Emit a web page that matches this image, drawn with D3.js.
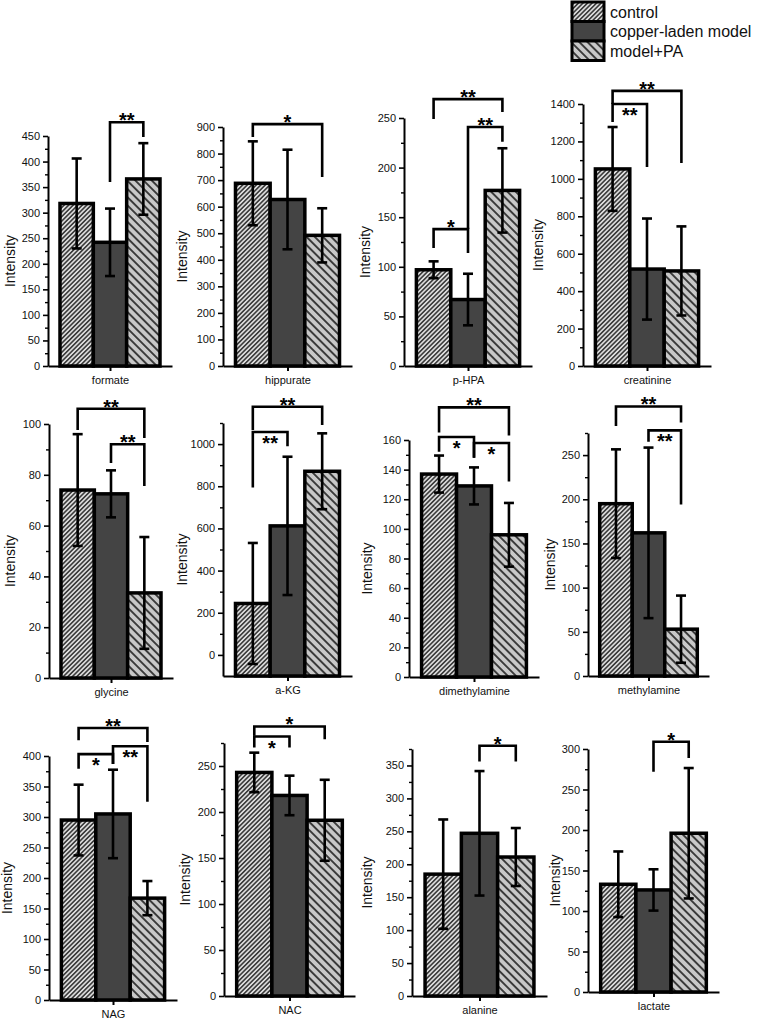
<!DOCTYPE html>
<html><head><meta charset="utf-8">
<script src="https://cdn.jsdelivr.net/npm/d3@7"></script>
<style>
body{margin:0;background:#fff}
svg{display:block}
text{font-family:Arial,"Liberation Sans",sans-serif}
</style></head>
<body><svg id="c" width="760" height="1022"></svg>
<script>
// ---------- data ----------
const metabolites = ["formate","hippurate","p-HPA","creatinine","glycine","a-KG","dimethylamine","methylamine","NAG","NAC","alanine","lactate"];
const groups = ["control","copper-laden model","model+PA"];
const controlMean = [318, 688, 97, 1053, 74, 244, 137, 195, 295, 243, 185, 133];
const controlSD   = [88, 158, 8.5, 224, 22, 287, 12.5, 61.5, 58, 21.5, 83, 40.5];
const modelMean   = [242, 627, 67, 518, 72.5, 612, 129, 162, 305, 218, 247, 126];
const modelSD     = [66, 187.5, 26, 270, 9.25, 328, 12.5, 96.5, 72.5, 21.5, 94.5, 25.5];
const paMean      = [366, 492, 177, 508, 33.5, 871, 96, 53, 167, 191, 211, 196];
const paSD        = [70, 102, 42.5, 238, 22, 180, 21.5, 38, 28, 44, 44, 80.5];
// axis ranges and tick steps
const yMin  = [0, 0, 0, 0, 0, -100, 0, 0, 0, 0, 0, 0];
const yMax  = [450, 900, 250, 1400, 100, 1100, 160, 275, 400, 275, 375, 300];
const yStep = [50, 100, 50, 200, 20, 200, 20, 50, 50, 50, 50, 50];
// significance brackets: [panel, fromGroup, toGroup, topValue, leftEnd, rightEnd, label, labelBelow]
const brackets = [
  [0,1,2,477,360,448,"**",false],
  [1,0,2,911,862,712,"*",false],
  [2,0,1,138,119,114,"*",false],[2,1,2,241,138,226,"**",false],[2,0,2,269,249,256,"**",false],
  [3,0,1,1400,1304,1063,"**",true],[3,0,2,1470,1400,1085,"**",false],
  [4,0,2,106,97.6,94.5,"**",false],[4,1,2,92,84.6,75.6,"**",false],
  [5,0,1,1057,794,990,"**",true],[5,0,2,1177,1067,1090,"**",false],
  [6,0,1,162,152,148,"*",true],[6,1,2,158,148,132,"*",true],[6,0,2,182,165,163,"**",false],
  [7,1,2,278,265,194,"**",true],[7,0,2,305,283,287,"**",false],
  [8,0,1,403,379,387,"*",true],[8,1,2,416,387,325,"**",true],[8,0,2,446,426,423,"**",false],
  [9,0,1,282,270,270,"*",true],[9,0,2,293,283,279,"*",false],
  [10,1,2,380,356,356,"*",false],
  [11,1,2,309,272,289,"*",false]
];

// ---------- layout (pixels) ----------
const panelX0 = [48,223,404,583, 49,223,409,588, 49,224,412,588];
const panelX1 = [172,352,532,711, 173,352,539,709, 177,355,547,719];
const panelTop = [136,127,118,104, 424,423,440,433, 756,743,749,749];
const panelBot = [366,366,366,366, 678,676,677,676, 1000,996,996,992];
const labelX = [10,182,365,538, 10,182,367,550, 7,185,367,555];

const svg = d3.select("#c");
const defs = svg.append("defs");
function hatch(id, bg, col, sp, w, ang){
  const p = defs.append("pattern").attr("id",id).attr("patternUnits","userSpaceOnUse")
    .attr("width",sp).attr("height",sp).attr("patternTransform",`rotate(${ang})`);
  p.append("rect").attr("width",sp).attr("height",sp).attr("fill",bg);
  p.append("line").attr("x1",sp/2).attr("x2",sp/2).attr("y1",-1).attr("y2",sp+1)
    .attr("stroke",col).attr("stroke-width",w);
}
hatch("hc","#dcdcdc","#262626",3.2,1.4,45);
hatch("hp","#c8c8c8","#111",5.8,1.5,-45);
const fills = ["url(#hc)","#444444","url(#hp)"];

const means = [controlMean, modelMean, paMean];
const sds = [controlSD, modelSD, paSD];

metabolites.forEach((name,i)=>{
  const g = svg.append("g");
  const y = d3.scaleLinear().domain([yMin[i], yMax[i]]).range([panelBot[i], panelTop[i]]);
  const x = d3.scaleBand().domain(groups).range([panelX0[i], panelX1[i]]).paddingInner(0).paddingOuter(0.36);
  const bw = x.bandwidth();
  const majors = d3.range(Math.max(0,yMin[i]), yMax[i]+1e-9, yStep[i]);
  const minors = d3.range(Math.max(0,yMin[i]), yMax[i]+1e-9, yStep[i]/2).filter(v=>!majors.includes(v));

  // x axis
  const xa = g.append("g").attr("transform",`translate(0,${panelBot[i]})`)
    .call(d3.axisBottom(d3.scalePoint().domain([name]).range([panelX0[i],panelX1[i]]).padding(0.5))
      .tickSize(5).tickSizeOuter(0).tickPadding(5));
  xa.select(".domain").attr("stroke","#000").attr("stroke-width",2);
  xa.selectAll(".tick line").attr("stroke","#000").attr("stroke-width",2);
  xa.selectAll("text").attr("font-size",11).attr("font-family","Arial, Liberation Sans, sans-serif").attr("fill","#111");

  // bars
  groups.forEach((gr,k)=>{
    const m = means[k][i];
    g.append("rect").attr("x",x(gr)).attr("y",y(m)).attr("width",bw)
      .attr("height",y(yMin[i])-y(m)).attr("fill",fills[k]).attr("stroke","#000").attr("stroke-width",3.5);
  });
  // error bars
  groups.forEach((gr,k)=>{
    const m = means[k][i], s = sds[k][i], cx = x(gr)+bw/2;
    const t = y(m+s), b = y(m-s);
    g.append("line").attr("x1",cx).attr("x2",cx).attr("y1",t).attr("y2",b).attr("stroke","#000").attr("stroke-width",2.6);
    [t,b].forEach(yy=>g.append("line").attr("x1",cx-5).attr("x2",cx+5).attr("y1",yy).attr("y2",yy).attr("stroke","#000").attr("stroke-width",2.6));
  });

  // y axis
  const ya = g.append("g").attr("transform",`translate(${panelX0[i]},0)`)
    .call(d3.axisLeft(y).tickValues(majors).tickSize(5).tickSizeOuter(0).tickPadding(3).tickFormat(d3.format("d")));
  ya.select(".domain").attr("stroke","#000").attr("stroke-width",2);
  ya.selectAll(".tick line").attr("stroke","#000").attr("stroke-width",1.6);
  ya.selectAll("text").attr("font-size",11).attr("font-family","Arial, Liberation Sans, sans-serif").attr("fill","#111");
  const ym = g.append("g").attr("transform",`translate(${panelX0[i]},0)`)
    .call(d3.axisLeft(y).tickValues(minors).tickSize(3).tickSizeOuter(0).tickFormat(""));
  ym.select(".domain").remove();
  ym.selectAll(".tick line").attr("stroke","#000").attr("stroke-width",1.4);

  // y label
  const cy = (panelTop[i]+panelBot[i])/2 + 10;
  g.append("text").attr("transform",`translate(${labelX[i]},${cy}) rotate(-90)`)
    .attr("text-anchor","middle").attr("dominant-baseline","central")
    .attr("font-size",14).attr("fill","#111").text("Intensity");

  // significance brackets
  brackets.filter(b=>b[0]===i).forEach(b=>{
    const xl = x(groups[b[1]])+bw/2, xr = x(groups[b[2]])+bw/2;
    const yt = y(b[3]), yl = y(b[4]), yr = y(b[5]);
    g.append("path").attr("d",`M${xl},${yl}V${yt}H${xr}V${yr}`)
      .attr("fill","none").attr("stroke","#000").attr("stroke-width",2.6).attr("stroke-linejoin","miter");
    g.append("text").attr("x",(xl+xr)/2).attr("y", b[7] ? yt+18 : yt+5)
      .attr("text-anchor","middle").attr("font-size",20).attr("font-weight","bold").attr("fill","#000").text(b[6]);
  });
});

// legend
const lg = svg.append("g");
groups.forEach((gr,k)=>{
  const yy = 2 + k*19.5;
  lg.append("rect").attr("x",572).attr("y",yy).attr("width",32).attr("height",19.5)
    .attr("fill",fills[k]).attr("stroke","#000").attr("stroke-width",3);
  lg.append("text").attr("x",610).attr("y",yy+10).attr("dominant-baseline","central")
    .attr("font-size",16).attr("fill","#111").text(gr);
});
</script></body></html>
